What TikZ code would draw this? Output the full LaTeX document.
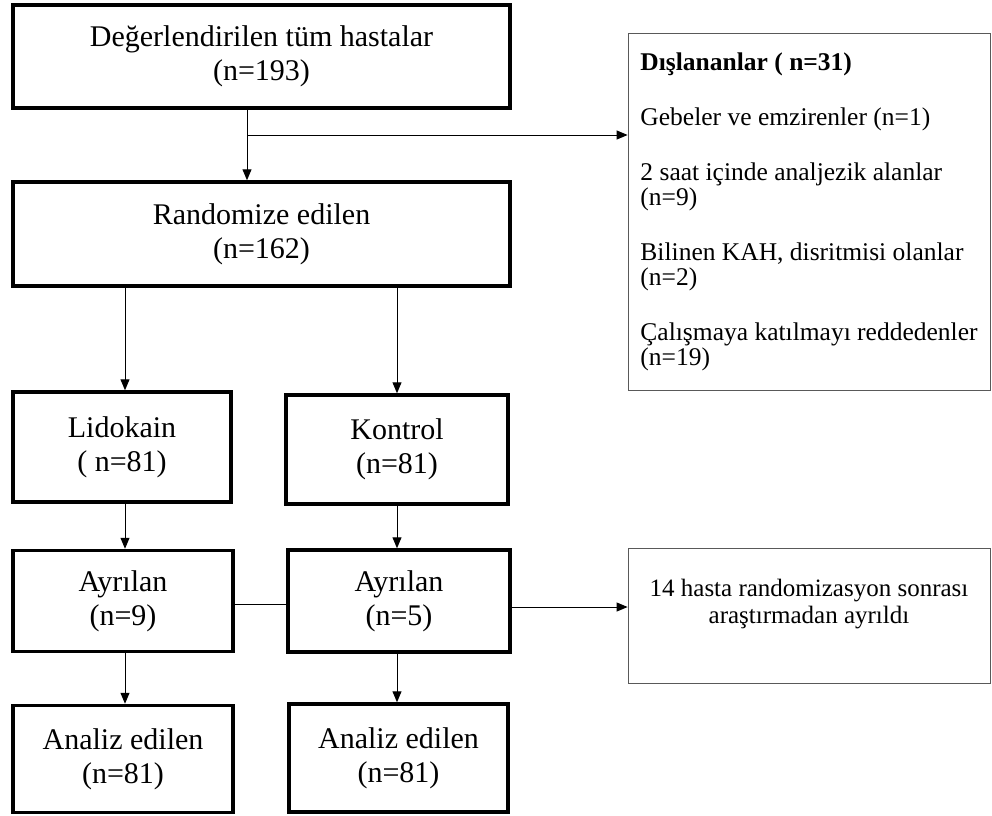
\documentclass[tikz,border=0pt]{standalone}
\usepackage{fontspec}
\setmainfont{Liberation Serif}
\usetikzlibrary{arrows.meta, positioning, calc}
\tikzset{
    flowbox/.style={rectangle, draw, line width=3.5pt, align=center, inner sep=0pt, font=\fontsize{30}{34}\selectfont},
    infobox/.style={rectangle, draw=black!65, line width=0.8pt, inner sep=0pt, font=\fontsize{25.5}{25}\selectfont},
    arrow/.style={line width=1pt,-{Triangle[length=11pt,width=9pt]}},
    link/.style={line width=1pt}
}

\begin{document}
\begin{tikzpicture}[x=1pt, y=-1pt]
        \useasboundingbox (0,0) rectangle (992,815);
        \node[flowbox, minimum width=497pt, minimum height=103pt] (all) at (261.5,56.5) {Değerlendirilen tüm hastalar\\(n=193)};
        \node[flowbox, minimum width=497pt, minimum height=104pt] (rand) at (261.5,234) {Randomize edilen\\(n=162)};
        \node[flowbox, minimum width=218pt, minimum height=110pt] (lido) at (122,447) {Lidokain\\( n=81)};
        \node[flowbox, minimum width=222pt, minimum height=109pt] (kont) at (397,449.5) {Kontrol\\(n=81)};
        \node[flowbox, minimum width=220pt, minimum height=101pt] (ayrL) at (123,601) {Ayrılan\\(n=9)};
        \node[flowbox, minimum width=222pt, minimum height=102pt] (ayrR) at (399,601) {Ayrılan\\(n=5)};
        \node[flowbox, minimum width=220pt, minimum height=107pt] (anaL) at (123,759) {Analiz edilen\\(n=81)};
        \node[flowbox, minimum width=219pt, minimum height=108pt] (anaR) at (398.5,758) {Analiz edilen\\(n=81)};
        \node[infobox, align=left, minimum width=362pt, minimum height=357pt] (excl) at (809,211.5) {\textbf{Dışlananlar ( n=31)}\\[30pt]Gebeler ve emzirenler (n=1)\\[30pt]2 saat içinde analjezik alanlar\\(n=9)\\[30pt]Bilinen KAH, disritmisi olanlar\\(n=2)\\[30pt]Çalışmaya katılmayı reddedenler\\(n=19)};
        \node[infobox, align=center, minimum width=362pt, minimum height=135pt, anchor=north, font=\fontsize{25}{27}\selectfont] (note) at (809,548) {14 hasta randomizasyon sonrası\\araştırmadan ayrıldı\\[2pt]\mbox{}};
        \coordinate (split) at (247,135);
        \draw[arrow] (split |- all.south) -- (split |- rand.north);
        \draw[arrow] (split) -- (split -| excl.west);
        \draw[arrow] (rand.south -| 125,0) -- (lido.north -| 125,0);
        \draw[arrow] (rand.south -| kont.north) -- (kont.north);
        \draw[arrow] (lido.south -| 125,0) -- (ayrL.north -| 125,0);
        \draw[arrow] (kont.south) -- (kont.south |- ayrR.north);
        \draw[arrow] (ayrL.south -| 125,0) -- (anaL.north -| 125,0);
        \draw[arrow] (ayrR.south -| kont.south) -- (kont.south |- anaR.north);
        \draw[link] ([yshift=-3pt]ayrL.east) -- ([yshift=-3pt]ayrR.west);
        \draw[arrow] ([yshift=-6pt]ayrR.east) -- ([yshift=-6pt]ayrR.east -| note.west);
    \end{tikzpicture}
\end{document}
